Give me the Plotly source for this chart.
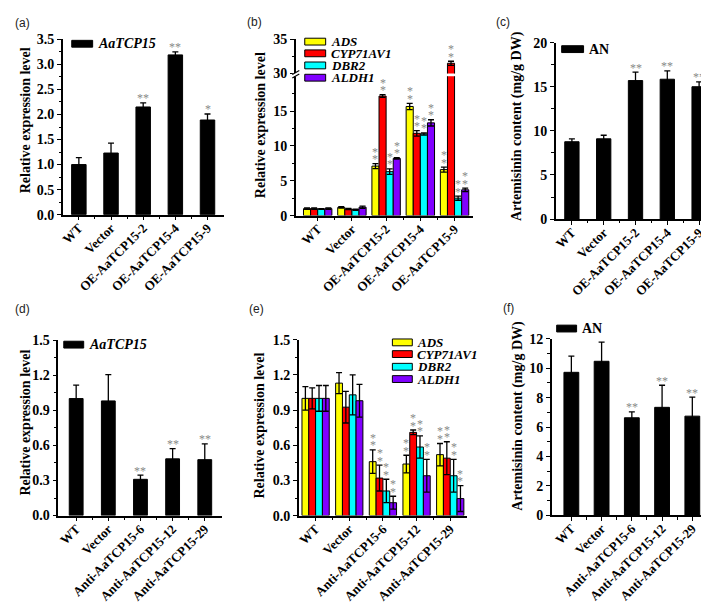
import plotly.graph_objects as go

W, H = 709, 606
SERIF = "Liberation Serif"
STAR_COLOR = "#888888"

# ---------------- data ----------------
oe_lines = ["WT", "Vector", "OE-AaTCP15-2", "OE-AaTCP15-4", "OE-AaTCP15-9"]
anti_lines = ["WT", "Vector", "Anti-AaTCP15-6", "Anti-AaTCP15-12", "Anti-AaTCP15-29"]
genes = ["ADS", "CYP71AV1", "DBR2", "ALDH1"]
gene_colors = ["#FFFF00", "#FF0000", "#00FFFF", "#8000FF"]

# (a) AaTCP15 expression, OE lines
a_vals = [1.0, 1.23, 2.15, 3.19, 1.89]
a_err = [0.14, 0.20, 0.08, 0.06, 0.12]
a_sig = ["", "", "**", "**", "*"]

# (b) pathway genes, OE lines
b_ads = [1.0, 1.17, 7.1, 15.65, 6.6]
b_ads_err = [0.1, 0.1, 0.35, 0.45, 0.35]
b_cyp = [1.0, 0.95, 17.15, 11.8, 31.5]
b_cyp_err = [0.12, 0.1, 0.2, 0.4, 0.3]
b_dbr = [0.95, 0.85, 6.3, 11.7, 2.5]
b_dbr_err = [0.05, 0.08, 0.4, 0.15, 0.3]
b_aldh = [1.0, 1.2, 8.2, 13.3, 3.7]
b_aldh_err = [0.1, 0.15, 0.1, 0.45, 0.25]
b_sig = ["", "", "**", "**", "**"]

# (c) artemisinin, OE lines
c_vals = [8.77, 9.1, 15.7, 15.85, 15.0]
c_err = [0.33, 0.4, 0.95, 0.95, 0.55]
c_sig = ["", "", "**", "**", "**"]

# (d) AaTCP15 expression, anti lines
d_vals = [1.0, 0.98, 0.31, 0.485, 0.478]
d_err = [0.115, 0.225, 0.035, 0.088, 0.135]
d_sig = ["", "", "**", "**", "**"]

# (e) pathway genes, anti lines
e_ads = [1.0, 1.13, 0.46, 0.44, 0.52]
e_ads_err = [0.1, 0.09, 0.1, 0.075, 0.095]
e_cyp = [1.0, 0.925, 0.32, 0.71, 0.49]
e_cyp_err = [0.09, 0.135, 0.11, 0.02, 0.14]
e_dbr = [1.0, 1.03, 0.21, 0.585, 0.34]
e_dbr_err = [0.11, 0.17, 0.1, 0.095, 0.14]
e_aldh = [1.0, 0.98, 0.11, 0.34, 0.145]
e_aldh_err = [0.11, 0.14, 0.055, 0.14, 0.11]
e_sig = ["", "", "**", "**", "**"]

# (f) artemisinin, anti lines
f_vals = [9.72, 10.47, 6.63, 7.34, 6.74]
f_err = [1.1, 1.3, 0.4, 1.5, 1.3]
f_sig = ["", "", "**", "**", "**"]

# tick labels
a_yticks = [0.0, 0.5, 1.0, 1.5, 2.0, 2.5, 3.0, 3.5]
b_yticks_low = [0, 5, 10, 15]
b_yticks_up = [30, 35]
c_yticks = [0, 5, 10, 15, 20]
d_yticks = [0.0, 0.3, 0.6, 0.9, 1.2, 1.5]
f_yticks = [0, 2, 4, 6, 8, 10, 12]


# ---------------- helpers ----------------
def fx(p):
    return p / W


def fy(p):
    return 1 - p / H


def xaxis_style(left, right, rng, cats, anchor):
    n = len(cats)
    return dict(
        domain=[fx(left), fx(right)], range=rng, anchor=anchor,
        tickmode="array", tickvals=list(range(n)), ticktext=cats,
        tickangle=-45, ticks="outside", ticklen=4, tickwidth=1.3, tickcolor="black",
        ticklabelstandoff=-5,
        showline=True, linewidth=1.5, linecolor="black", mirror=False,
        showgrid=False, zeroline=False, fixedrange=True,
        tickfont=dict(family=SERIF, size=13, color="black", weight="bold"),
        minor=dict(tickmode="array", tickvals=[i + 0.5 for i in range(n - 1)],
                   ticks="outside", ticklen=2.5, tickwidth=1, tickcolor="black"),
    )


def yaxis_style(top, bottom, rng, majors, fmt, anchor):
    minors = [(majors[i] + majors[i + 1]) / 2 for i in range(len(majors) - 1)]
    return dict(
        domain=[fy(bottom), fy(top)], range=rng, anchor=anchor,
        tickmode="array", tickvals=majors, ticktext=[fmt.format(v) for v in majors],
        ticks="outside", ticklen=4, tickwidth=1.3, tickcolor="black",
        showline=True, linewidth=1.5, linecolor="black",
        showgrid=False, zeroline=False, fixedrange=True,
        tickfont=dict(family=SERIF, size=14, color="black", weight="bold"),
        minor=dict(tickmode="array", tickvals=minors, ticks="outside",
                   ticklen=2.5, tickwidth=1, tickcolor="black"),
    )


fig = go.Figure()
shapes = []
annotations = []


def err_style(arr):
    return dict(type="data", array=arr, visible=True, color="black", thickness=1.3, width=3)


def star(xref, yref, x, y, text, shift):
    annotations.append(dict(
        x=x, y=y, xref=xref, yref=yref, text=text, showarrow=False,
        xanchor="center", yanchor="middle", yshift=shift,
        font=dict(family=SERIF, size=12, color=STAR_COLOR),
    ))


def single_panel(xa, ya, cats, vals, errs, sig, width):
    xs = list(range(len(cats)))
    fig.add_trace(go.Bar(
        x=xs, y=vals, width=width, xaxis=xa, yaxis=ya,
        marker=dict(color="black", line=dict(color="black", width=1)),
        error_y=err_style(errs), showlegend=False, hoverinfo="skip",
    ))
    for i, s in enumerate(sig):
        if s:
            star(xa, ya, xs[i], vals[i] + errs[i], s, 4.5)


def group_panel(xa, yas, cats, series, errs_list, sig, gw, split=None):
    n = len(series)
    w = gw / n
    xs = list(range(len(cats)))
    for k, (vals, errs) in enumerate(zip(series, errs_list)):
        for ya in yas:
            fig.add_trace(go.Bar(
                x=xs, y=vals, width=w, offset=-gw / 2 + k * w, xaxis=xa, yaxis=ya,
                marker=dict(color=gene_colors[k], line=dict(color="black", width=1)),
                error_y=err_style(errs), showlegend=False, hoverinfo="skip",
            ))
        for i, s in enumerate(sig):
            if s:
                top = vals[i] + errs[i]
                ya = yas[0]
                if split is not None and top > split:
                    ya = yas[1]
                cx = xs[i] - gw / 2 + (k + 0.5) * w
                star(xa, ya, cx, top, "*", 4.5)
                star(xa, ya, cx, top, "*", 12)


def legend_box(x0, x1, yc, color, label, size, italic=True, h=7):
    shapes.append(dict(type="rect", xref="paper", yref="paper",
                       x0=fx(x0), x1=fx(x1), y0=fy(yc + h / 2), y1=fy(yc - h / 2),
                       fillcolor=color, line=dict(color="black", width=1)))
    annotations.append(dict(
        x=fx(x1 + 3), y=fy(yc), xref="paper", yref="paper", text=label,
        showarrow=False, xanchor="left", yanchor="middle",
        font=dict(family=SERIF, size=size, color="black", weight="bold",
                  style="italic" if italic else "normal"),
    ))


def ytitle(xc, yc, text):
    annotations.append(dict(
        x=fx(xc), y=fy(yc), xref="paper", yref="paper", text=text, textangle=-90,
        showarrow=False, xanchor="center", yanchor="middle",
        font=dict(family=SERIF, size=14, color="black", weight="bold"),
    ))


def plabel(x, yc, text):
    annotations.append(dict(
        x=fx(x), y=fy(yc), xref="paper", yref="paper", text=text,
        showarrow=False, xanchor="left", yanchor="middle",
        font=dict(family="Liberation Sans", size=12, color="#222222"),
    ))


# ---------------- panels ----------------
single_panel("x", "y", oe_lines, a_vals, a_err, a_sig, 0.45)
group_panel("x2", ["y2", "y3"], oe_lines,
            [b_ads, b_cyp, b_dbr, b_aldh],
            [b_ads_err, b_cyp_err, b_dbr_err, b_aldh_err], b_sig, 0.83, split=20)
single_panel("x4", "y4", oe_lines, c_vals, c_err, c_sig, 0.45)
single_panel("x5", "y5", anti_lines, d_vals, d_err, d_sig, 0.43)
group_panel("x6", ["y6"], anti_lines,
            [e_ads, e_cyp, e_dbr, e_aldh],
            [e_ads_err, e_cyp_err, e_dbr_err, e_aldh_err], e_sig, 0.81)
single_panel("x7", "y7", anti_lines, f_vals, f_err, f_sig, 0.49)

layout = dict(
    width=W, height=H, margin=dict(l=0, r=0, t=0, b=0),
    paper_bgcolor="white", plot_bgcolor="white", showlegend=False,
    barmode="overlay",
    xaxis=xaxis_style(52, 213.5, [-0.5, 4.5], oe_lines, "y"),
    yaxis=yaxis_style(25, 204.7, [0, 3.5], a_yticks, "{:.1f}", "x"),
    xaxis2=xaxis_style(286, 464, [-0.64, 4.54], oe_lines, "y2"),
    yaxis2=yaxis_style(62.7, 205.7, [0, 20], b_yticks_low, "{:d}", "x2"),
    yaxis3=yaxis_style(25, 60, [30, 35], b_yticks_up, "{:d}", "x2"),
    xaxis4=xaxis_style(547, 707, [-0.51, 4.5], oe_lines, "y4"),
    yaxis4=yaxis_style(28.3, 209.3, [0, 20], c_yticks, "{:d}", "x4"),
    xaxis5=xaxis_style(47.5, 211.7, [-0.556, 4.53], anti_lines, "y5"),
    yaxis5=yaxis_style(333.3, 513.3, [0, 1.5], d_yticks, "{:.1f}", "x5"),
    xaxis6=xaxis_style(289, 458, [-0.5, 4.5], anti_lines, "y6"),
    yaxis6=yaxis_style(333, 513.3, [0, 1.5], d_yticks, "{:.1f}", "x6"),
    xaxis7=xaxis_style(543, 707, [-0.65, 4.75], anti_lines, "y7"),
    yaxis7=yaxis_style(332, 513, [0, 12], f_yticks, "{:d}", "x7"),
)
# broken axis in (b): minor ticks for each segment
layout["yaxis2"]["minor"]["tickvals"] = [2.5, 7.5, 12.5, 17.5]
layout["yaxis3"]["minor"]["tickvals"] = [32.5]

# legends
legend_box(61, 82, 29.5, "black", "AaTCP15", 14)
for k, g in enumerate(genes):
    legend_box(295, 316, [27.3, 39.3, 51.7, 64.3][k], gene_colors[k], g, 13)
legend_box(553, 575, 35, "black", "AN", 14, italic=False)
legend_box(53, 73, 338, "black", "AaTCP15", 14)
for k, g in enumerate(genes):
    legend_box(383, 403, [335.7, 347.7, 360.7, 373.3][k], gene_colors[k], g, 13)
legend_box(548, 568, 321.5, "black", "AN", 14, italic=False)

# axis break symbol in (b)
shapes.append(dict(type="rect", xref="paper", yref="paper", x0=fx(283), x1=fx(289.5),
                   y0=fy(63), y1=fy(59.5), fillcolor="white", line=dict(width=0)))
for dy in (0, 3.5):
    shapes.append(dict(type="line", xref="paper", yref="paper",
                       x0=fx(282.5), y0=fy(61 + dy), x1=fx(289.5), y1=fy(57 + dy),
                       line=dict(color="black", width=1.2)))

# axis titles
ytitle(14, 108, "Relative expression level")
ytitle(250, 113, "Relative expression level")
ytitle(508, 114, "Artemisinin content (mg/g DW)")
ytitle(15, 418, "Relative expression level")
ytitle(250, 421, "Relative expression level")
ytitle(509, 411, "Artemisinin content (mg/g DW)")

# panel labels
plabel(2, 8, "(a)")
plabel(235, 7, "(b)")
plabel(485, 7, "(c)")
plabel(2, 301, "(d)")
plabel(237, 301, "(e)")
plabel(492, 300, "(f)")

layout["shapes"] = shapes
layout["annotations"] = annotations
fig.update_layout(**layout)

fig.write_html("out.html", config={"displayModeBar": False})
